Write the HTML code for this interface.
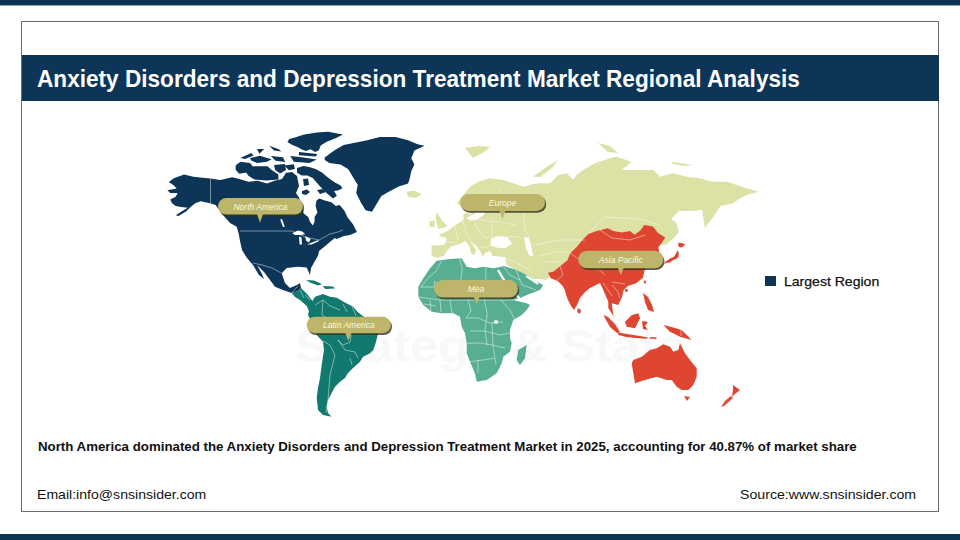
<!DOCTYPE html>
<html><head><meta charset="utf-8"><style>
html,body{margin:0;padding:0;}
body{width:960px;height:540px;position:relative;overflow:hidden;background:#fff;font-family:"Liberation Sans",sans-serif;}
.topbar{position:absolute;left:0;top:0;width:960px;height:6px;background:linear-gradient(to bottom,#0d3150 0,#0c3453 5px,rgba(12,52,83,0.45) 5px,rgba(12,52,83,0.45) 6px);}
.botbar{position:absolute;left:0;top:534px;width:960px;height:6px;background:#0c3453;}
.frame{position:absolute;left:21px;top:21px;width:916px;height:489px;border:1px solid #6b6b6b;}
.title{position:absolute;left:22px;top:55px;width:917px;height:46px;background:#0d3557;}
.title span{position:absolute;left:15px;top:9.5px;font-weight:bold;font-size:24px;color:#fff;white-space:nowrap;transform:scaleX(0.9418);transform-origin:0 0;}
.svg{position:absolute;left:0;top:0;}
.lt{font-family:"Liberation Sans",sans-serif;font-style:italic;font-size:8.5px;fill:#fbf9df;}
.stmt{position:absolute;left:38px;top:438.7px;font-weight:bold;font-size:13px;color:#111;white-space:nowrap;transform:scaleX(1.0213);transform-origin:0 0;}
.email{position:absolute;left:37px;top:487px;font-size:13.5px;color:#111;white-space:nowrap;transform:scaleX(1.043);transform-origin:0 0;}
.source{position:absolute;left:740px;top:487px;font-size:13.5px;color:#111;white-space:nowrap;transform:scaleX(1.048);transform-origin:0 0;}
.leg{position:absolute;left:765px;top:276px;width:11px;height:10px;background:#0d3557;}
.legt{position:absolute;left:784px;top:273.7px;font-size:13.5px;color:#111;white-space:nowrap;-webkit-text-stroke:0.25px #111;transform:scaleX(1.04);transform-origin:0 0;}
</style></head><body>
<div class="topbar"></div>
<div class="frame"></div>
<div class="title"><span>Anxiety Disorders and Depression Treatment Market Regional Analysis</span></div>
<svg class="svg" width="960" height="540" viewBox="0 0 960 540">
<text x="490" y="362" text-anchor="middle" font-family="Liberation Sans" font-weight="bold" font-size="47" fill="#f8f8f8" textLength="390" lengthAdjust="spacingAndGlyphs">Strategy &amp; Stats</text>
<polygon fill="#0d3557" points="173.9,178.2 184.1,174.5 193.3,176.8 202.6,177.7 210.5,178.6 220.2,180.0 232.2,177.3 239.3,178.9 248.5,181.7 257.8,180.7 267.0,183.5 274.4,180.7 281.9,178.9 286.0,173.0 292.0,172.0 297.0,176.0 299.0,186.0 296.0,193.0 298.9,197.6 302.6,206.9 303.5,213.3 308.1,217.0 310.0,221.7 312.8,225.4 314.6,221.7 314.6,217.0 317.4,212.4 315.6,205.9 316.5,200.4 319.3,198.5 324.8,200.4 331.3,202.2 335.9,205.9 339.6,205.0 344.3,210.6 347.8,217.8 353.0,224.3 356.9,232.0 350.0,235.0 344.0,236.0 336.7,238.9 334.8,238.0 329.3,242.6 323.7,247.2 319.0,250.9 318.1,255.5 314.4,262.0 311.0,268.0 310.0,275.0 306.7,267.5 298.0,266.7 286.7,268.0 281.7,273.3 285.0,283.0 290.0,288.0 296.7,285.0 300.0,283.3 301.0,288.0 298.0,291.0 291.7,293.0 283.0,290.0 275.0,286.7 270.0,280.0 264.0,272.0 257.0,265.0 262.0,274.0 264.0,279.0 259.0,275.0 253.0,265.0 247.0,258.0 242.0,250.0 240.0,241.0 238.5,233.0 236.7,226.7 230.0,223.0 223.0,215.0 215.6,205.0 210.0,203.2 200.7,201.3 195.2,203.2 190.6,206.9 186.0,211.5 178.5,216.1 175.7,215.2 183.1,210.6 187.8,207.8 181.3,206.9 175.7,206.0 172.0,203.2 170.2,199.5 175.7,196.7 177.6,193.0 170.2,193.0 167.4,190.2 176.7,188.4 173.9,185.6 168.8,181.9"/>
<polygon fill="#0d3557" points="289.3,139.1 295.7,137.3 304.1,134.5 317.0,132.6 328.1,131.7 343.0,134.5 335.6,138.2 326.3,141.9 320.7,145.6 318.9,150.2 315.2,152.1 310.6,149.3 305.9,151.1 301.3,149.3 298.5,147.4 292.0,144.7 287.4,141.9"/>
<polygon fill="#0d3557" points="290.3,155.9 299.9,157.0 316.7,159.5 309.5,163.1 293.8,161.8"/>
<polygon fill="#0d3557" points="299.0,151.9 317.2,153.9 315.9,156.5 299.0,155.2"/>
<polygon fill="#0d3557" points="235.7,165.3 240.5,161.7 250.1,163.0 253.8,167.8 246.5,172.6 239.3,173.8 235.7,170.1"/>
<polygon fill="#0d3557" points="244.8,168.5 254.4,166.2 267.6,166.2 271.3,169.8 278.4,174.6 278.4,179.4 266.5,180.6 254.4,179.4 248.4,175.8 245.9,172.1"/>
<polygon fill="#0d3557" points="240.3,158.0 251.2,153.1 253.6,155.5 245.1,159.1"/>
<polygon fill="#0d3557" points="250.0,158.1 259.6,155.8 271.7,159.3 266.9,161.8 257.3,162.9 251.2,160.6"/>
<polygon fill="#0d3557" points="269.2,145.7 278.8,149.3 281.3,151.6 274.0,150.5"/>
<polygon fill="#0d3557" points="257.1,148.9 264.2,148.9 259.4,153.7"/>
<polygon fill="#0d3557" points="270.8,156.0 282.9,157.2 285.2,162.0 275.6,160.8"/>
<polygon fill="#0d3557" points="274.0,165.1 284.8,163.9 286.0,169.9 280.0,173.6 275.2,169.9"/>
<polygon fill="#0d3557" points="284.1,165.5 293.8,164.3 294.9,169.1 289.0,170.3"/>
<polygon fill="#0d3557" points="285.6,172.4 291.1,174.0 292.0,178.0 287.4,179.8"/>
<polygon fill="#0d3557" points="297.0,168.0 303.5,166.1 309.1,167.0 315.6,168.9 322.0,172.6 327.6,177.2 334.1,181.9 340.6,185.6 342.4,188.3 338.7,190.2 334.1,191.1 336.9,195.7 333.1,198.5 327.6,193.9 323.9,190.2 318.3,184.6 312.8,178.1 307.2,175.4 301.7,175.4 297.0,172.6"/>
<polygon fill="#0d3557" points="302.0,191.0 307.0,189.5 310.0,192.0 306.0,195.0 302.0,194.0"/>
<polygon fill="#0d3557" points="317.0,190.0 323.0,189.0 326.0,192.0 320.0,194.0"/>
<polygon fill="#0d3557" points="303.0,179.0 308.0,178.5 309.0,185.0 304.0,186.0"/>
<polygon fill="#0d3557" points="324.7,157.5 334.2,150.5 343.6,145.0 356.2,142.6 367.2,140.2 379.8,137.1 395.5,137.1 408.1,140.2 417.6,144.2 424.6,145.7 414.4,150.5 411.3,158.3 414.4,164.6 411.3,170.9 409.7,178.8 408.1,183.5 398.7,186.6 389.2,191.4 381.4,196.1 376.6,204.0 371.9,211.8 365.6,210.3 360.9,202.4 356.2,192.9 357.8,185.1 353.0,177.2 348.3,169.3 340.5,164.6 329.4,163.0 324.7,159.9"/>
<polygon fill="#12796f" points="310.0,305.0 315.0,296.7 323.0,294.0 330.0,296.7 336.7,297.8 344.4,302.2 353.3,306.7 357.8,312.2 362.2,315.6 370.0,321.0 379.0,327.0 378.0,334.0 375.6,343.3 373.3,350.0 370.0,353.3 363.0,356.7 360.0,361.7 353.0,368.0 348.0,373.0 345.0,378.0 340.0,381.7 335.0,386.7 331.7,393.0 328.0,400.0 326.7,406.7 328.0,413.0 331.7,416.7 323.0,415.0 318.0,410.0 316.7,398.0 318.0,388.0 320.0,378.0 321.7,365.0 324.0,350.0 323.0,341.7 316.7,335.0 311.7,321.7 308.0,315.0"/>
<polygon fill="#12796f" points="291.7,293.0 298.0,291.0 301.0,288.0 304.0,291.0 307.0,294.0 311.0,299.0 315.0,305.0 313.0,310.0 310.0,313.0 306.7,306.0 300.0,300.0 295.0,297.0"/>
<polygon fill="#12796f" points="306.0,280.0 314.0,280.5 322.0,284.0 318.0,285.5 310.0,282.5"/>
<polygon fill="#12796f" points="323.0,286.0 333.0,286.5 335.0,288.5 325.0,289.0"/>
<polygon fill="#dce1a6" points="436.2,257.8 431.6,255.9 431.6,245.6 444.3,245.0 447.2,238.3 439.8,236.1 439.1,234.6 444.3,232.4 448.7,230.2 454.6,225.7 459.0,222.8 463.5,219.8 463.5,213.9 466.5,212.4 470.9,215.4 467.0,208.0 456.7,203.3 463.3,195.0 470.0,186.7 478.3,181.7 490.0,178.3 503.3,180.0 513.3,183.3 523.3,186.7 533.0,184.0 540.0,183.3 550.0,183.3 558.3,175.0 566.7,173.3 573.3,180.0 576.7,175.0 583.3,170.0 595.0,163.3 610.0,158.3 616.7,156.7 631.7,161.7 621.7,170.0 640.0,170.0 653.3,170.0 660.0,176.7 673.3,173.3 686.7,176.7 700.0,178.3 711.7,181.7 726.7,181.7 736.7,185.0 746.7,188.3 758.0,191.7 746.7,195.0 740.0,198.3 733.3,203.3 720.4,206.0 713.9,216.3 704.8,228.0 702.2,209.8 691.9,211.0 678.9,211.0 671.1,218.9 676.3,222.8 678.9,231.9 672.4,239.6 666.0,244.8 660.0,245.0 650.0,236.0 630.0,236.0 600.0,236.0 585.0,245.0 572.0,257.0 560.0,268.0 552.0,276.0 546.0,280.0 540.0,279.0 533.0,279.0 526.7,275.0 516.7,270.0 506.7,265.0 504.7,256.9 492.5,255.9 490.6,251.2 485.9,252.2 482.2,256.9 481.2,253.1 477.5,247.5 470.0,240.5 476.0,250.0 474.5,255.0 471.5,254.0 469.0,246.0 465.3,240.9 460.6,243.7 456.9,244.7 451.2,246.6 447.5,250.3 443.7,255.9"/>
<polygon fill="#dce1a6" points="436.9,212.4 439.8,216.9 442.0,220.6 445.7,224.3 447.2,226.5 442.8,228.0 438.3,228.7 437.0,225.5 436.5,221.3 435.8,216.9"/>
<polygon fill="#dce1a6" points="429.4,221.3 434.6,220.6 434.6,227.2 429.4,226.5"/>
<polygon fill="#dce1a6" points="406.7,191.7 414.0,190.5 421.7,194.0 416.0,198.0 408.0,196.5"/>
<polygon fill="#dce1a6" points="465.0,148.0 478.0,146.0 490.0,146.7 484.0,152.0 473.0,158.0"/>
<polygon fill="#dce1a6" points="533.0,176.7 545.0,168.0 558.0,160.0 552.0,168.0 540.0,177.0"/>
<polygon fill="#dce1a6" points="598.0,143.0 610.0,146.0 618.0,153.0 608.0,152.0"/>
<polygon fill="#dce1a6" points="671.7,161.7 693.0,165.0 684.0,166.0 673.0,164.0"/>
<polygon fill="#58ae93" points="436.7,260.8 450.0,259.0 461.7,258.3 466.7,266.7 475.0,268.3 483.3,266.7 493.3,268.3 501.7,266.7 503.0,265.8 516.7,270.0 526.7,275.0 533.0,280.0 543.3,285.0 540.0,290.0 526.7,295.0 520.0,298.3 513.0,300.0 526.7,303.3 530.0,305.0 526.7,310.0 521.7,315.0 513.3,320.0 510.0,330.0 510.0,338.3 511.7,343.3 510.0,351.7 503.3,356.7 501.7,363.3 496.7,373.3 486.7,380.0 476.7,381.7 475.0,373.3 470.0,361.7 466.7,353.3 466.7,343.3 465.0,333.3 461.7,326.7 460.0,316.7 453.3,313.3 441.7,313.3 431.7,311.7 423.3,305.0 418.3,296.7 418.3,286.7 423.3,278.3 430.0,268.3"/>
<polygon fill="#58ae93" points="526.7,345.0 525.0,358.3 520.0,365.0 516.7,360.0 518.3,350.0"/>
<polygon fill="#df4632" points="548.0,272.8 553.6,271.4 560.6,265.8 567.5,260.3 570.3,253.3 577.2,246.4 582.8,239.4 588.3,233.9 596.7,231.1 607.8,228.3 613.3,231.1 621.7,232.5 630.0,231.1 634.7,234.7 640.3,230.6 644.4,225.0 652.8,226.4 658.3,233.3 665.3,237.5 662.5,241.7 658.3,247.2 659.7,254.2 661.1,261.0 658.3,265.3 655.0,262.0 652.0,257.0 648.0,262.0 644.4,270.8 643.0,277.8 636.1,283.3 627.8,286.1 623.6,290.3 622.0,297.0 618.3,305.0 611.7,303.3 613.3,315.0 615.0,318.3 608.3,308.3 608.3,301.7 603.3,290.0 600.0,283.0 596.0,285.0 590.0,288.0 585.0,292.0 580.0,298.0 577.0,305.0 574.0,310.0 571.0,306.0 568.0,300.0 566.1,295.0 564.7,289.4 562.0,285.3 557.8,281.1 550.8,278.3"/>
<polygon fill="#df4632" points="678.7,242.4 681.7,243.1 685.4,244.6 682.4,246.9 680.2,247.6 678.0,246.1"/>
<polygon fill="#df4632" points="677.2,250.6 678.7,252.0 678.7,256.5 676.5,258.7 672.8,260.2 669.8,262.4 666.1,263.1 663.9,264.6 665.4,261.7 669.8,258.7 674.3,256.5 676.5,252.8"/>
<polygon fill="#df4632" points="644.0,280.5 646.0,281.0 645.8,283.5 643.8,283.3"/>
<polygon fill="#df4632" points="625.0,289.0 628.0,289.5 627.5,292.0 625.0,291.5"/>
<polygon fill="#df4632" points="643.0,293.0 648.0,297.0 652.0,305.0 654.0,312.0 648.0,310.0 645.0,302.0"/>
<polygon fill="#df4632" points="625.0,321.7 632.0,315.0 638.3,313.3 640.0,318.3 635.0,328.3 626.7,326.7"/>
<polygon fill="#df4632" points="603.3,315.0 608.0,317.0 615.0,324.0 620.0,332.0 617.0,333.0 610.0,327.0"/>
<polygon fill="#df4632" points="618.0,332.5 630.0,334.5 640.0,336.0 648.0,337.5 647.0,338.8 636.0,338.0 626.0,337.0 618.0,334.8"/>
<polygon fill="#df4632" points="650.0,337.0 657.0,337.5 656.0,339.0 650.0,338.5"/>
<polygon fill="#df4632" points="642.0,321.0 648.0,322.0 645.0,326.0 648.0,330.0 643.0,329.0"/>
<polygon fill="#df4632" points="663.3,325.0 673.3,327.5 681.7,330.0 691.7,340.0 680.0,336.7 670.0,331.7"/>
<polygon fill="#df4632" points="578.0,308.0 581.0,310.0 580.0,314.0 577.0,312.0"/>
<polygon fill="#df4632" points="633.3,360.0 641.7,356.7 650.0,350.0 656.7,348.3 663.3,344.2 670.0,346.7 673.3,351.7 678.3,350.0 680.0,343.3 685.0,353.3 690.0,360.0 696.7,368.3 696.7,376.7 693.3,385.0 688.3,390.0 681.7,390.0 676.7,386.7 671.7,380.0 666.7,380.0 656.7,376.7 645.0,380.0 635.0,383.3 633.3,373.3 631.7,363.3"/>
<polygon fill="#df4632" points="684.0,396.0 690.0,397.0 687.0,401.0"/>
<polygon fill="#df4632" points="733.0,385.0 740.0,390.0 735.0,394.0 732.0,397.0 733.0,390.0"/>
<polygon fill="#df4632" points="731.0,396.0 733.0,398.0 724.0,406.0 721.0,407.0 725.0,401.0"/>
<polygon fill="#fff" points="490.6,239.0 498.1,236.2 507.5,237.2 512.2,243.7 504.7,248.4 496.2,247.5 490.6,245.6"/>
<polygon fill="#fff" points="524.0,237.0 529.0,238.0 531.0,245.0 533.3,256.7 529.0,255.0 526.0,248.0"/>
<polygon fill="#fff" points="466.5,217.6 469.4,220.6 476.9,219.8 484.3,214.6 486.0,206.0 480.0,210.0 474.0,214.0 470.0,216.5"/>
<polygon fill="#fff" points="292.2,233.3 297.8,230.5 302.4,231.4 305.2,234.2 300.6,235.1 295.0,235.1"/>
<polygon fill="#fff" points="299.0,236.5 301.5,237.5 302.0,244.4 299.6,244.4"/>
<polygon fill="#fff" points="305.2,236.1 310.7,238.9 308.9,242.6 306.1,240.7"/>
<polygon fill="#fff" points="307.0,244.4 314.4,241.6 319.0,239.8 318.1,241.6 311.7,244.4"/>
<polygon fill="#fff" points="280.2,219.4 282.0,219.0 284.8,226.8 283.0,227.0"/>
<polyline fill="none" stroke="#fff" stroke-width="2.2" points="498.0,270.0 504.0,280.0 512.0,290.0 520.0,299.0"/>
<polyline fill="none" stroke="#fff" stroke-width="2" points="526.0,276.0 532.0,280.0 538.0,284.0"/>
<polyline fill="none" stroke="#fff" stroke-opacity="0.75" stroke-width="0.6" points="459.4,258.0 462.2,269.0 460.8,280.0 467.0,290.0 468.0,300.0 471.0,311.0 466.0,318.0"/>
<polyline fill="none" stroke="#fff" stroke-opacity="0.75" stroke-width="0.6" points="485.8,266.7 485.8,281.4 504.0,281.4"/>
<polyline fill="none" stroke="#fff" stroke-opacity="0.75" stroke-width="0.6" points="441.4,261.0 435.8,271.7 430.3,275.8 420.6,287.0"/>
<polyline fill="none" stroke="#fff" stroke-opacity="0.75" stroke-width="0.6" points="420.6,287.0 434.4,287.0 434.4,281.4 446.0,290.0 460.8,280.0"/>
<polyline fill="none" stroke="#fff" stroke-opacity="0.75" stroke-width="0.6" points="419.0,297.0 440.0,300.0 468.0,300.0 484.0,300.0 501.0,300.0 513.0,300.0"/>
<polyline fill="none" stroke="#fff" stroke-opacity="0.75" stroke-width="0.6" points="484.4,281.4 484.4,300.8 487.2,313.3 485.0,330.0 487.0,345.0"/>
<polyline fill="none" stroke="#fff" stroke-opacity="0.75" stroke-width="0.6" points="430.0,300.0 431.0,311.0"/>
<polyline fill="none" stroke="#fff" stroke-opacity="0.75" stroke-width="0.6" points="440.0,300.0 441.0,312.0"/>
<polyline fill="none" stroke="#fff" stroke-opacity="0.75" stroke-width="0.6" points="450.0,300.0 452.0,313.0"/>
<polyline fill="none" stroke="#fff" stroke-opacity="0.75" stroke-width="0.6" points="424.0,304.0 436.0,306.0"/>
<polyline fill="none" stroke="#fff" stroke-opacity="0.75" stroke-width="0.6" points="466.0,318.0 478.0,318.0 490.0,323.0 503.0,322.0"/>
<polyline fill="none" stroke="#fff" stroke-opacity="0.75" stroke-width="0.6" points="470.0,331.0 485.0,331.0 500.0,335.0 510.0,333.0"/>
<polyline fill="none" stroke="#fff" stroke-opacity="0.75" stroke-width="0.6" points="466.7,343.3 480.0,343.0 492.0,345.0 505.0,348.0"/>
<polyline fill="none" stroke="#fff" stroke-opacity="0.75" stroke-width="0.6" points="470.0,361.7 483.0,360.0 495.0,358.0"/>
<polyline fill="none" stroke="#fff" stroke-opacity="0.75" stroke-width="0.6" points="478.0,360.0 478.0,373.0"/>
<polyline fill="none" stroke="#fff" stroke-opacity="0.75" stroke-width="0.6" points="501.0,300.0 510.0,310.0 515.0,320.0"/>
<polyline fill="none" stroke="#fff" stroke-opacity="0.75" stroke-width="0.6" points="492.0,323.0 493.0,345.0 496.0,365.0"/>
<polyline fill="none" stroke="#fff" stroke-opacity="0.75" stroke-width="0.6" points="503.0,266.0 510.0,275.0 520.0,280.0"/>
<polyline fill="none" stroke="#fff" stroke-opacity="0.75" stroke-width="0.6" points="516.0,270.0 522.0,285.0 536.0,290.0"/>
<polyline fill="none" stroke="#fff" stroke-opacity="0.75" stroke-width="0.6" points="455.0,226.7 458.0,240.0"/>
<polyline fill="none" stroke="#fff" stroke-opacity="0.75" stroke-width="0.6" points="462.0,218.0 466.0,232.0 470.0,240.0"/>
<polyline fill="none" stroke="#fff" stroke-opacity="0.75" stroke-width="0.6" points="470.0,212.0 478.0,230.0 485.0,238.0"/>
<polyline fill="none" stroke="#fff" stroke-opacity="0.75" stroke-width="0.6" points="478.0,220.0 500.0,222.0 515.0,225.0"/>
<polyline fill="none" stroke="#fff" stroke-opacity="0.75" stroke-width="0.6" points="485.0,238.0 500.0,236.0 520.0,237.0"/>
<polyline fill="none" stroke="#fff" stroke-opacity="0.75" stroke-width="0.6" points="446.0,242.0 458.0,243.0"/>
<polyline fill="none" stroke="#fff" stroke-opacity="0.75" stroke-width="0.6" points="492.0,222.0 492.0,236.0"/>
<polyline fill="none" stroke="#fff" stroke-opacity="0.75" stroke-width="0.6" points="522.0,200.0 525.0,230.0 530.0,238.0"/>
<polyline fill="none" stroke="#fff" stroke-opacity="0.75" stroke-width="0.6" points="533.0,245.0 560.0,240.0 585.0,240.0"/>
<polyline fill="none" stroke="#fff" stroke-opacity="0.75" stroke-width="0.6" points="538.0,256.0 555.0,252.0 570.0,252.0"/>
<polyline fill="none" stroke="#fff" stroke-opacity="0.75" stroke-width="0.6" points="545.0,262.0 560.0,262.0"/>
<polyline fill="none" stroke="#fff" stroke-opacity="0.75" stroke-width="0.6" points="505.0,258.0 515.0,262.0 530.0,270.0"/>
<polyline fill="none" stroke="#fff" stroke-opacity="0.75" stroke-width="0.6" points="588.0,234.0 605.0,217.0 640.0,219.0 660.0,225.0"/>
<polyline fill="none" stroke="#fff" stroke-opacity="0.75" stroke-width="0.6" points="480.0,248.0 490.0,246.0"/>
<polyline fill="none" stroke="#fff" stroke-opacity="0.75" stroke-width="0.6" points="500.0,190.0 505.0,205.0"/>
<polyline fill="none" stroke="#fff" stroke-opacity="0.75" stroke-width="0.6" points="600.0,230.0 612.0,238.0 630.0,240.0 645.0,235.0"/>
<polyline fill="none" stroke="#fff" stroke-opacity="0.75" stroke-width="0.6" points="570.0,253.0 580.0,260.0 590.0,266.0 600.0,270.0 605.0,275.0"/>
<polyline fill="none" stroke="#fff" stroke-opacity="0.75" stroke-width="0.6" points="560.0,266.0 563.0,275.0 557.0,280.0"/>
<polyline fill="none" stroke="#fff" stroke-opacity="0.75" stroke-width="0.6" points="603.0,283.0 608.0,290.0 612.0,296.0"/>
<polyline fill="none" stroke="#fff" stroke-opacity="0.75" stroke-width="0.6" points="612.0,285.0 618.0,292.0 620.0,298.0"/>
<polyline fill="none" stroke="#fff" stroke-opacity="0.75" stroke-width="0.6" points="612.0,282.0 625.0,284.0"/>
<polyline fill="none" stroke="#fff" stroke-opacity="0.75" stroke-width="0.6" points="681.0,327.0 681.0,336.0"/>
<polyline fill="none" stroke="#fff" stroke-opacity="0.75" stroke-width="0.6" points="315.0,305.0 323.0,300.0 330.0,306.0 340.0,310.0"/>
<polyline fill="none" stroke="#fff" stroke-opacity="0.75" stroke-width="0.6" points="323.0,300.0 322.0,315.0 330.0,320.0 345.0,318.0"/>
<polyline fill="none" stroke="#fff" stroke-opacity="0.75" stroke-width="0.6" points="345.0,318.0 352.0,330.0 350.0,342.0 343.0,345.0 338.0,340.0"/>
<polyline fill="none" stroke="#fff" stroke-opacity="0.75" stroke-width="0.6" points="323.0,341.0 330.0,345.0 335.0,355.0 330.0,375.0 328.0,400.0 326.0,413.0"/>
<polyline fill="none" stroke="#fff" stroke-opacity="0.75" stroke-width="0.6" points="338.0,340.0 345.0,350.0 355.0,352.0 358.0,358.0"/>
<polyline fill="none" stroke="#fff" stroke-opacity="0.75" stroke-width="0.6" points="350.0,358.0 352.0,365.0"/>
<polyline fill="none" stroke="#fff" stroke-opacity="0.75" stroke-width="0.6" points="352.0,306.0 356.0,316.0"/>
<polyline fill="none" stroke="#fff" stroke-opacity="0.75" stroke-width="0.6" points="343.0,304.0 347.0,312.0"/>
<polyline fill="none" stroke="#fff" stroke-opacity="0.75" stroke-width="0.6" points="300.0,290.0 304.0,298.0"/>
<polyline fill="none" stroke="#fff" stroke-opacity="0.75" stroke-width="0.6" points="305.0,295.0 310.0,300.0"/>
<polyline fill="none" stroke="#fff" stroke-opacity="0.75" stroke-width="0.6" points="240.0,231.0 292.0,231.0 305.0,237.0 319.0,240.0 330.0,234.0 338.0,232.0 343.0,230.0"/>
<polyline fill="none" stroke="#fff" stroke-opacity="0.75" stroke-width="0.6" points="210.5,178.6 210.5,203.0"/>
<polyline fill="none" stroke="#fff" stroke-opacity="0.75" stroke-width="0.6" points="253.0,263.0 262.0,265.0 272.0,268.0 281.0,273.0"/>
<polyline fill="none" stroke="#fff" stroke-opacity="0.75" stroke-width="0.6" points="291.7,293.0 298.0,286.0"/>
<ellipse cx="496" cy="322" rx="2" ry="2" fill="#fff"/>
<g><rect x="219.2" y="199.8" width="85.0" height="16.6" rx="8.3" fill="#33321a" opacity="0.8"/><path d="M256.8,213.6 L260.0,222.7 L263.2,213.6 Z" fill="#bdb66a"/><rect x="218.0" y="198.0" width="85.0" height="16.6" rx="8.3" fill="#bdb66a"/><text x="260.5" y="209.5" text-anchor="middle" class="lt">North America</text></g>
<g><rect x="461.2" y="195.8" width="85.0" height="17.0" rx="8.5" fill="#33321a" opacity="0.8"/><path d="M499.3,210.0 L502.5,219.0 L505.7,210.0 Z" fill="#bdb66a"/><rect x="460.0" y="194.0" width="85.0" height="17.0" rx="8.5" fill="#bdb66a"/><text x="502.5" y="205.7" text-anchor="middle" class="lt">Europe</text></g>
<g><rect x="579.5" y="252.6" width="85.0" height="17.5" rx="8.8" fill="#33321a" opacity="0.8"/><path d="M617.6,267.3 L620.8,275.0 L624.0,267.3 Z" fill="#bdb66a"/><rect x="578.3" y="250.8" width="85.0" height="17.5" rx="8.8" fill="#bdb66a"/><text x="620.8" y="262.8" text-anchor="middle" class="lt">Asia Pacific</text></g>
<g><rect x="435.2" y="281.8" width="84.0" height="17.5" rx="8.8" fill="#33321a" opacity="0.8"/><path d="M473.5,296.5 L476.7,304.0 L479.9,296.5 Z" fill="#bdb66a"/><rect x="434.0" y="280.0" width="84.0" height="17.5" rx="8.8" fill="#bdb66a"/><text x="476.0" y="291.9" text-anchor="middle" class="lt">Mea</text></g>
<g><rect x="307.9" y="318.5" width="84.1" height="16.6" rx="8.3" fill="#33321a" opacity="0.8"/><path d="M345.1,332.3 L348.3,341.0 L351.5,332.3 Z" fill="#bdb66a"/><rect x="306.7" y="316.7" width="84.1" height="16.6" rx="8.3" fill="#bdb66a"/><text x="348.8" y="328.2" text-anchor="middle" class="lt">Latin America</text></g>
</svg>
<div class="leg"></div>
<div class="legt">Largest Region</div>
<div class="stmt">North America dominated the Anxiety Disorders and Depression Treatment Market in 2025, accounting for 40.87% of market share</div>
<div class="email">Email:info@snsinsider.com</div>
<div class="source">Source:www.snsinsider.com</div>
<div class="botbar"></div>
</body></html>
